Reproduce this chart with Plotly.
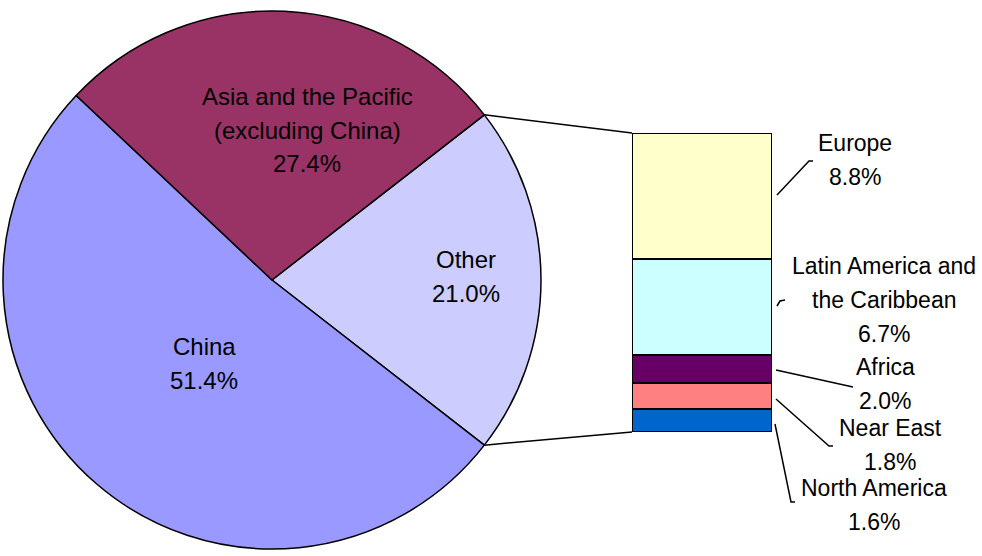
import plotly.graph_objects as go
import math

# ---- data ----
pie_labels = ["Other", "China", "Asia and the Pacific (excluding China)"]
pie_lines = [["Other"], ["China"], ["Asia and the Pacific", "(excluding China)"]]
pie_values = [21.0, 51.4, 27.4]
pie_colors = ["#CCCCFF", "#9999FF", "#993366"]

bar_labels = ["North America", "Near East", "Africa", "Latin America and the Caribbean", "Europe"]
bar_lines = [["North America"], ["Near East"], ["Africa"], ["Latin America and", "the Caribbean"], ["Europe"]]
bar_values = [1.6, 1.8, 2.0, 6.7, 8.8]
bar_colors = ["#0066CC", "#FF8080", "#660066", "#CCFFFF", "#FFFFCC"]

W, H = 982, 556
FONT = "Liberation Sans, Arial, sans-serif"
FS_PIE = 24
FS_BAR = 23
LINE = 34

def px(x):
    return x / W

def py(y):
    return 1 - y / H

# pie geometry (pixels)
cx, cy, r = 272, 280, 269
other_share = pie_values[0] / sum(pie_values)
half_ang = other_share * 360 / 2          # Other slice centred on 3 o'clock
rotation = 90 - half_ang                  # start angle, clockwise from 12 o'clock

fig = go.Figure()
fig.add_trace(go.Pie(
    labels=pie_labels, values=pie_values, sort=False, direction="clockwise",
    rotation=rotation, marker=dict(colors=pie_colors, line=dict(color="black", width=1.5)),
    textinfo="none", hoverinfo="label+value", showlegend=False,
    domain=dict(x=[px(cx - r), px(cx + r)], y=[py(cy + r), py(cy - r)]),
))

# stacked bar
bar_left, bar_right, bar_top, bar_bottom = 632, 772, 133, 432
for lab, val, col in zip(bar_labels, bar_values, bar_colors):
    fig.add_trace(go.Bar(
        x=["Other"], y=[val], name=lab, marker=dict(color=col, line=dict(color="black", width=2)),
        xaxis="x", yaxis="y", showlegend=False, width=1,
    ))

total = sum(bar_values)
fig.update_layout(
    width=W, height=H, margin=dict(l=0, r=0, t=0, b=0),
    paper_bgcolor="white", plot_bgcolor="rgba(0,0,0,0)",
    barmode="stack", bargap=0,
    xaxis=dict(domain=[px(bar_left), px(bar_right)], visible=False, range=[-0.5, 0.5]),
    yaxis=dict(domain=[py(bar_bottom), py(bar_top)], visible=False, range=[0, total]),
    font=dict(family=FONT, size=FS_PIE, color="black"),
)

# connector lines from Other slice edges to bar corners
a = math.radians(half_ang)
p_top = (cx + r * math.cos(a), cy - r * math.sin(a))
p_bot = (cx + r * math.cos(a), cy + r * math.sin(a))
shapes = [
    dict(type="line", xref="paper", yref="paper", x0=px(p_top[0]), y0=py(p_top[1]),
         x1=px(bar_left), y1=py(bar_top), line=dict(color="black", width=1.5)),
    dict(type="line", xref="paper", yref="paper", x0=px(p_bot[0]), y0=py(p_bot[1]),
         x1=px(bar_left), y1=py(bar_bottom), line=dict(color="black", width=1.5)),
]

# leader lines for bar labels (pixel paths)
leaders = [
    [(775, 424), (791, 502), (795, 502)],
    [(776, 399), (829, 446), (833, 446)],
    [(776, 370), (853, 387)],
    [(777, 306), (780, 301), (785, 300)],
    [(777, 195), (809, 161), (813, 161)],
]
for pts in leaders:
    path = "M " + " L ".join(f"{px(x)},{py(y)}" for x, y in pts)
    shapes.append(dict(type="path", xref="paper", yref="paper", path=path,
                       line=dict(color="black", width=1.5)))
fig.update_layout(shapes=shapes)


def add_label(lines, val, x, yc, fs):
    all_lines = list(lines) + [f"{val:.1f}%"]
    n = len(all_lines)
    y0 = yc - (n - 1) * LINE / 2
    for i, t in enumerate(all_lines):
        fig.add_annotation(xref="paper", yref="paper", x=px(x), y=py(y0 + i * LINE),
                           showarrow=False, text=t, xanchor="center", yanchor="middle",
                           font=dict(family=FONT, size=fs, color="black"))


# pie labels
pie_pos = [(466, 276), (204, 363), (307, 130)]
for lines, val, (x, y) in zip(pie_lines, pie_values, pie_pos):
    add_label(lines, val, x, y, FS_PIE)

bar_pos = [(874, 505), (890, 445), (885, 384), (884, 300), (855, 160)]
for lines, val, (x, y) in zip(bar_lines, bar_values, bar_pos):
    add_label(lines, val, x, y, FS_BAR)

fig.write_html("out.html", config={"displayModeBar": False},
               post_script="document.body.style.margin='0';document.body.style.overflow='hidden';")
